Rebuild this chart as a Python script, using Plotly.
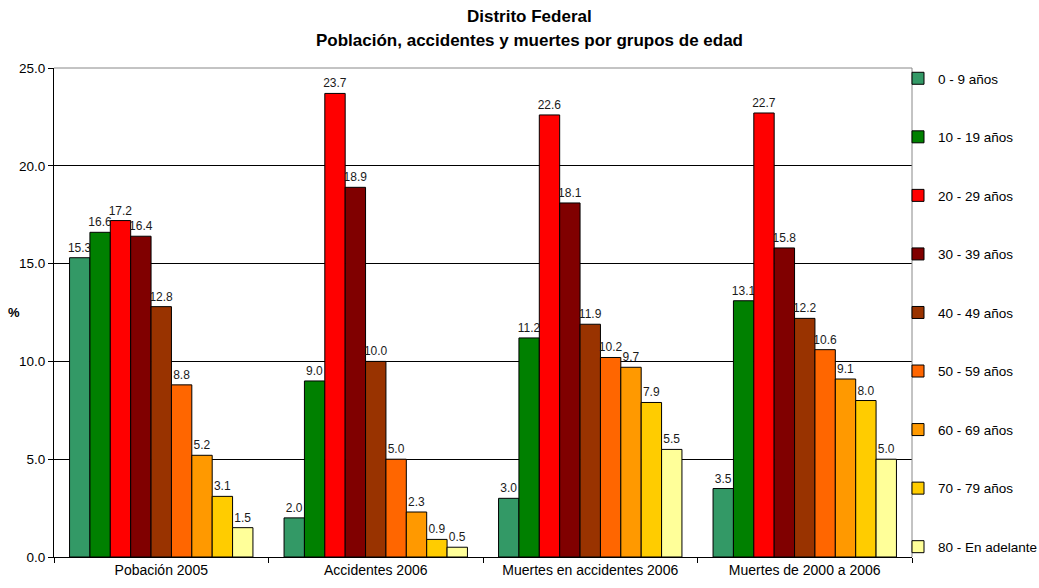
import plotly.graph_objects as go

categories = ["Pobación 2005", "Accidentes 2006", "Muertes en accidentes 2006", "Muertes de 2000 a 2006"]

age_groups = ["0 - 9 años", "10 - 19 años", "20 - 29 años", "30 - 39 años", "40 - 49 años",
              "50 - 59 años", "60 - 69 años", "70 - 79 años", "80 - En adelante"]

# Percent per age group, in category order
g_0_9 = [15.3, 2.0, 3.0, 3.5]
g_10_19 = [16.6, 9.0, 11.2, 13.1]
g_20_29 = [17.2, 23.7, 22.6, 22.7]
g_30_39 = [16.4, 18.9, 18.1, 15.8]
g_40_49 = [12.8, 10.0, 11.9, 12.2]
g_50_59 = [8.8, 5.0, 10.2, 10.6]
g_60_69 = [5.2, 2.3, 9.7, 9.1]
g_70_79 = [3.1, 0.9, 7.9, 8.0]
g_80_mas = [1.5, 0.5, 5.5, 5.0]

series = [g_0_9, g_10_19, g_20_29, g_30_39, g_40_49, g_50_59, g_60_69, g_70_79, g_80_mas]
colors = ["#339966", "#008000", "#FF0000", "#800000", "#993300",
          "#FF6600", "#FF9900", "#FFCC00", "#FFFF99"]

FONT = "Liberation Sans, Arial, sans-serif"

fig = go.Figure()
for name, vals, col in zip(age_groups, series, colors):
    fig.add_trace(go.Bar(
        x=categories, y=vals, name=name, legendgroup=name,
        marker=dict(color=col, line=dict(color="#000000", width=1)),
        text=[f"{v:.1f}" for v in vals], textposition="outside",
        constraintext="none",
        textfont=dict(family=FONT, size=12, color="#1a1a1a"),
        outsidetextfont=dict(family=FONT, size=12, color="#1a1a1a"),
        cliponaxis=False,
    ))

fig.update_layout(
    width=1039, height=588,
    margin=dict(l=54, r=127, t=68, b=31, autoexpand=False),
    paper_bgcolor="white", plot_bgcolor="white",
    barmode="group", bargap=0.145, bargroupgap=0,
    font=dict(family=FONT, size=13, color="#000000"),
    legend=dict(
        xref="container", yref="container",
        x=898 / 1039, xanchor="left", y=1 - 63 / 588, yanchor="top",
        tracegroupgap=38, maxheight=560,
        font=dict(family=FONT, size=13.5, color="#000000"),
        bgcolor="rgba(0,0,0,0)", itemwidth=30,
    ),
    showlegend=True,
    xaxis=dict(
        type="category", tickson="boundaries", ticks="outside", ticklen=5,
        tickcolor="#000000", showline=True, linecolor="#000000", linewidth=1,
        mirror=False, showgrid=False, tickfont=dict(family=FONT, size=14),
    ),
    yaxis=dict(
        range=[0, 25], dtick=5, tickformat=".1f", ticks="outside", ticklen=5,
        tickcolor="#000000", showline=True, linecolor="#000000", linewidth=1,
        showgrid=True, gridcolor="#000000", gridwidth=1, zeroline=False,
        tickfont=dict(family=FONT, size=13.5),
    ),
    shapes=[
        dict(type="line", xref="paper", yref="paper", x0=0, x1=1, y0=1, y1=1,
             line=dict(color="#888888", width=1)),
        dict(type="line", xref="paper", yref="paper", x0=1, x1=1, y0=0, y1=1,
             line=dict(color="#888888", width=1)),
    ],
    annotations=[
        dict(text="<b>Distrito Federal</b>", xref="paper", yref="paper",
             x=(529 - 54) / 858, y=540 / 489, xanchor="center", yanchor="middle",
             showarrow=False, font=dict(family=FONT, size=17, color="#000000")),
        dict(text="<b>Población, accidentes y muertes por grupos de edad</b>",
             xref="paper", yref="paper",
             x=(529 - 54) / 858, y=517 / 489, xanchor="center", yanchor="middle",
             showarrow=False, font=dict(family=FONT, size=17, color="#000000")),
        dict(text="<b>%</b>", xref="paper", yref="paper", x=-40 / 858, y=0.5,
             xanchor="center", yanchor="middle",
             showarrow=False, font=dict(family=FONT, size=13)),
    ],
)

fig.write_html("out.html")
